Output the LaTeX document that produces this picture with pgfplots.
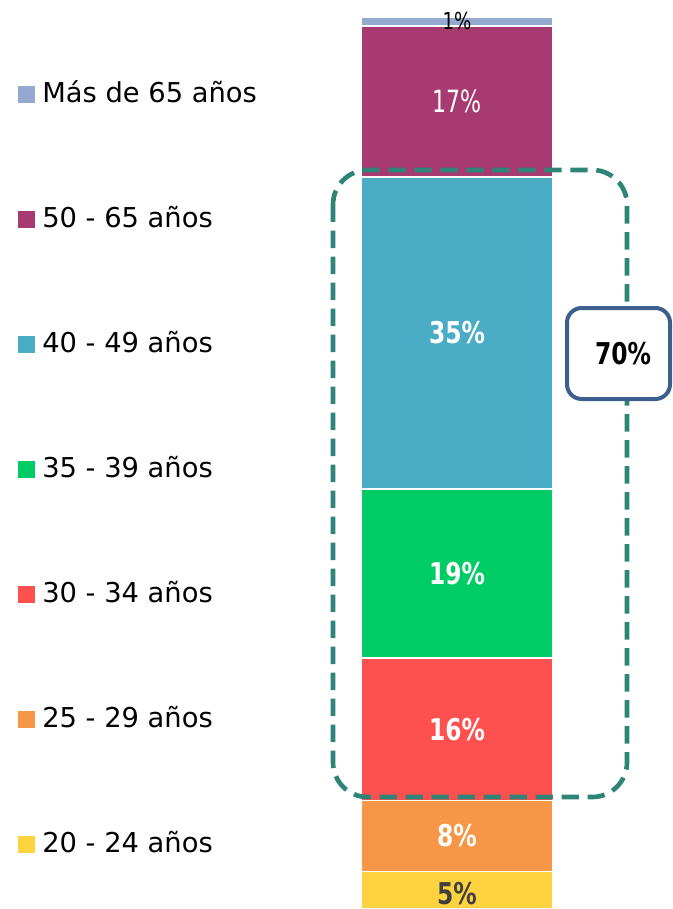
\documentclass[border=0pt]{standalone}
\usepackage{pgfplots}
\pgfplotsset{compat=1.18}
\usepackage{fontspec}
\setmainfont{DejaVu Sans}
\newfontfamily\labelfont[FakeStretch=0.78]{DejaVu Sans}
\newfontfamily\reglabelfont[FakeStretch=0.72]{DejaVu Sans}
\definecolor{cLav}{HTML}{95A9D0}
\definecolor{cPur}{HTML}{A83A72}
\definecolor{cBlu}{HTML}{4BACC6}
\definecolor{cGre}{HTML}{00CC66}
\definecolor{cRed}{HTML}{FF5050}
\definecolor{cOra}{HTML}{F79646}
\definecolor{cYel}{HTML}{FFD33F}
\definecolor{cTeal}{HTML}{2E8577}
\definecolor{cCall}{HTML}{3D5F8E}
\definecolor{cDark}{HTML}{404040}
\begin{document}
\begin{tikzpicture}
\useasboundingbox (0pt,0pt) rectangle (504.75pt,-681.75pt);
\begin{axis}[
  at={(0pt,-681.75pt)}, anchor=south west,
  scale only axis, width=504.75pt, height=681.75pt,
  hide axis,
  xmin=0, xmax=673, ymin=0.8, ymax=102.9,
  ybar stacked, bar width=192,
  clip=true,
  legend cell align=left,
  reverse legend,
  legend image code/.code={\path[#1, draw=none, fill] (0pt,-6.5pt) rectangle (12.75pt,6.5pt);},
  legend style={draw=none, fill=none, at={(18/673,0.9108)}, anchor=north west,
    inner sep=0pt, row sep=73.75pt, column sep=5.25pt,
    font=\fontsize{20.5pt}{22pt}\selectfont,
    nodes={inner sep=0pt, text height=16pt, text depth=4pt}},
]
\addplot[fill=cYel, draw=white, line width=1.2pt,
  nodes near coords={\labelfont\bfseries 5\%},
  every node near coord/.append style={anchor=center, text=cDark, font=\fontsize{22.5pt}{24pt}\selectfont}]
  coordinates {(457,5)};
\addplot[fill=cOra, draw=white, line width=1.2pt,
  nodes near coords={\labelfont\bfseries 8\%},
  every node near coord/.append style={anchor=center, text=white, font=\fontsize{22.5pt}{24pt}\selectfont}]
  coordinates {(457,8)};
\addplot[fill=cRed, draw=white, line width=1.2pt,
  nodes near coords={\labelfont\bfseries 16\%},
  every node near coord/.append style={anchor=center, text=white, font=\fontsize{22.5pt}{24pt}\selectfont}]
  coordinates {(457,16)};
\addplot[fill=cGre, draw=white, line width=1.2pt,
  nodes near coords={\labelfont\bfseries 19\%},
  every node near coord/.append style={anchor=center, text=white, font=\fontsize{22.5pt}{24pt}\selectfont}]
  coordinates {(457,19)};
\addplot[fill=cBlu, draw=white, line width=1.2pt,
  nodes near coords={\labelfont\bfseries 35\%},
  every node near coord/.append style={anchor=center, text=white, font=\fontsize{22.5pt}{24pt}\selectfont}]
  coordinates {(457,35)};
\addplot[fill=cPur, draw=white, line width=1.2pt,
  nodes near coords={\reglabelfont 17\%},
  every node near coord/.append style={anchor=center, text=white, font=\fontsize{23pt}{25pt}\selectfont}]
  coordinates {(457,17)};
\addplot[fill=cLav, draw=white, line width=1.2pt,
  nodes near coords={\labelfont 1\%},
  every node near coord/.append style={anchor=center, text=black, font=\fontsize{17.5pt}{19pt}\selectfont}]
  coordinates {(457,1)};
\legend{20 - 24 años, 25 - 29 años, 30 - 34 años, 35 - 39 años, 40 - 49 años, 50 - 65 años, Más de 65 años}
\end{axis}
\begin{scope}[x=0.75pt, y=-0.75pt]
\draw[cTeal, line width=3.5pt, dash pattern=on 13pt off 6.5pt, rounded corners=26pt] (333,170) rectangle (627,797);
\draw[cCall, line width=3pt, fill=white, rounded corners=11pt] (567,308) rectangle (670,399);
\node[font=\labelfont\bfseries\fontsize{22.5pt}{24pt}\selectfont] at (623,354) {70\%};
\end{scope}
\end{tikzpicture}
\end{document}
